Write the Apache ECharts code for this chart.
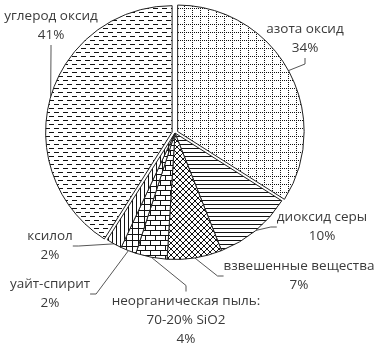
<!DOCTYPE html>
<html><head><meta charset="utf-8">
<script src="https://cdn.jsdelivr.net/npm/echarts@6/dist/echarts.min.js"></script>
<style>html,body{margin:0;padding:0;background:#fff}#c{width:378px;height:348px}</style>
</head><body><div id="c"></div>
<script>
const categories = ['азота оксид','диоксид серы','взвешенные вещества','неорганическая пыль:\n70-20% SiO2','уайт-спирит','ксилол','углерод оксид'];
const values = [34,10,7,4,2,2,41];
const exploded = [true,false,false,false,false,false,true];

function tile(w,h,draw){
  const c=document.createElement('canvas');c.width=w;c.height=h;
  const g=c.getContext('2d');g.fillStyle='#fff';g.fillRect(0,0,w,h);g.fillStyle='#111';draw(g,w,h);
  return {image:c,repeat:'repeat'};
}
const patterns = [
  tile(8,8,(g)=>{for(let i=0;i<8;i+=2){g.fillRect(i,0,1,1);g.fillRect(0,i,1,1);}}),          // dotted grid
  tile(1,4,(g)=>{g.fillRect(0,0,1,1);}),                                                      // horizontal lines
  tile(6,6,(g)=>{for(let i=0;i<6;i++){g.fillRect(i,i,1,1);g.fillRect(5-i,i,1,1);}}),          // crosshatch
  tile(10,10,(g)=>{g.fillRect(0,0,10,1);g.fillRect(0,5,10,1);g.fillRect(0,0,1,5);g.fillRect(5,5,1,5);}), // brick
  tile(6,6,(g)=>{g.fillRect(0,0,6,1);g.fillRect(0,0,1,6);}),                                  // grid
  tile(4,1,(g)=>{g.fillRect(0,0,1,1);}),                                                      // vertical lines
  tile(9,8,(g)=>{g.fillRect(0,0,5,1);g.fillRect(4,4,5,1);})                                   // dashes
];
const labelPos = [[305,39],[322,227],[299,276],[186,320],[50,294],[50,246],[51,26]];

const CX=175, CY=133, R=126.5, OFF=3;
const total = values.reduce((a,b)=>a+b,0);
function midDir(i){
  let s=0; for(let k=0;k<i;k++) s+=values[k];
  const a=(s+values[i]/2)/total*2*Math.PI;
  return [Math.sin(a),-Math.cos(a)];
}
function makeSeries(visible, center){
  return {
    type:'pie', center:center, radius:R, startAngle:90, clockwise:true,
    avoidLabelOverlap:false, silent:true, emphasis:{disabled:true},
    label:{show:true,position:'outside',formatter:(p)=>p.name+'\n'+p.value+'%',
      color:'#3a3a3a',fontFamily:'Open Sans',fontSize:13.5,lineHeight:19,align:'center'},
    labelLine:{show:true,length:10,length2:6,lineStyle:{color:'#555',width:1}},
    labelLayout:(p)=>({x:labelPos[p.dataIndex][0],y:labelPos[p.dataIndex][1],align:'center',verticalAlign:'middle'}),
    data:categories.map((n,i)=>{
      const vis=visible(i);
      return {name:n,value:values[i],
        itemStyle: vis?{color:patterns[i],borderColor:'#222',borderWidth:1}:{color:'rgba(0,0,0,0)',borderWidth:0},
        label:{show:vis}, labelLine:{show:vis}};
    })
  };
}
const series=[makeSeries(i=>!exploded[i],[CX,CY])];
exploded.forEach((e,i)=>{ if(e){const d=midDir(i); series.push(makeSeries(k=>k===i,[CX+d[0]*OFF,CY+d[1]*OFF]));} });

const chart = echarts.init(document.getElementById('c'),null,{renderer:'canvas'});
chart.setOption({animation:false, series:series});
</script></body></html>
